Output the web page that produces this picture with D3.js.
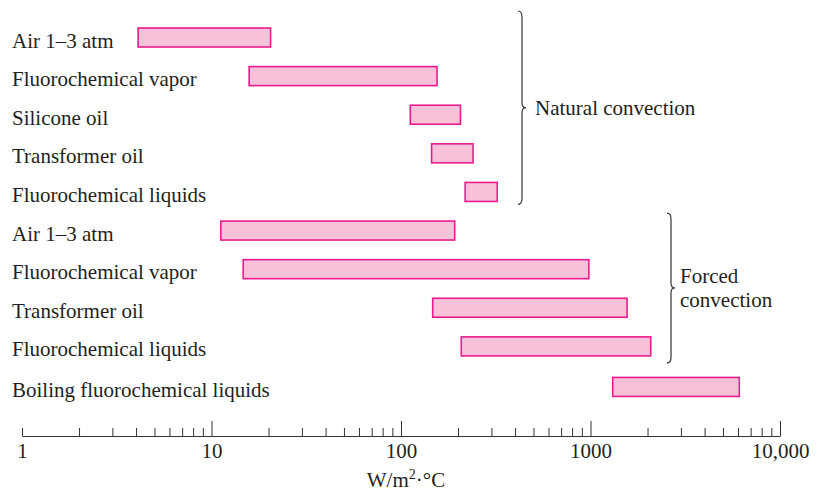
<!DOCTYPE html>
<html>
<head>
<meta charset="utf-8">
<script src="https://cdn.jsdelivr.net/npm/d3@7"></script>
<style>
  body { margin: 0; background: #fff; }
  svg text { font-family: "Liberation Serif", "Times New Roman", serif; fill: #231f20; }
</style>
</head>
<body>
<div id="chart"></div>
<script>
// rows, top to bottom
var labels = ["Air 1\u20133 atm", "Fluorochemical vapor", "Silicone oil", "Transformer oil",
  "Fluorochemical liquids", "Air 1\u20133 atm", "Fluorochemical vapor", "Transformer oil",
  "Fluorochemical liquids", "Boiling fluorochemical liquids"];
// h ranges, W/m2.C
var lows = [4.1, 15.8, 112, 145, 218, 11.2, 14.7, 147, 208, 1310];
var highs = [20.5, 155, 206, 240, 322, 192, 980, 1560, 2080, 6100];
// row slot (boiling sits a little lower)
var slots = [0, 1, 2, 3, 4, 5, 6, 7, 8, 9.05];
var groups = [
  { name: ["Natural convection"], first: 0, last: 4 },
  { name: ["Forced", "convection"], first: 5, last: 8 }
];
var majorTicks = [1, 10, 100, 1000, 10000];
var tickLabels = ["1", "10", "100", "1000", "10,000"];

var width = 820, height = 493;
var svg = d3.select("#chart").append("svg").attr("width", width).attr("height", height);

var x = d3.scaleLog().domain([1, 10000]).range([22, 780]);
var y = d3.scaleLinear().domain([0, 9]).range([37.5, 385]);
var barH = 19;
var axisY = 436;

// bars
svg.selectAll("rect.bar").data(labels).enter().append("rect")
  .attr("class", "bar")
  .attr("x", function(d, i) { return x(lows[i]); })
  .attr("width", function(d, i) { return x(highs[i]) - x(lows[i]); })
  .attr("y", function(d, i) { return y(slots[i]) - barH / 2; })
  .attr("height", barH)
  .attr("fill", "#f6c1d9")
  .attr("stroke", "#ec1b8c")
  .attr("stroke-width", 1.6);

// row labels
svg.selectAll("text.row").data(labels).enter().append("text")
  .attr("class", "row")
  .attr("x", 12)
  .attr("y", function(d, i) { return y(slots[i]) + 10; })
  .attr("font-size", 21)
  .text(function(d) { return d; });

// braces
function brace(bx, y0, y1) {
  var ym = (y0 + y1) / 2;
  return "M" + (bx - 4) + "," + y0 + " Q" + bx + "," + y0 + " " + bx + "," + (y0 + 6) +
    " L" + bx + "," + (ym - 5) + " Q" + bx + "," + ym + " " + (bx + 4) + "," + ym +
    " Q" + bx + "," + ym + " " + bx + "," + (ym + 5) +
    " L" + bx + "," + (y1 - 6) + " Q" + bx + "," + y1 + " " + (bx - 4) + "," + y1;
}
var braceX = [522, 671];
var textGap = [13, 9];
var braceTop = [-26.5, -17.5];
var braceBot = [12.5, 16.5];
groups.forEach(function(g, k) {
  var y0 = y(slots[g.first]) + braceTop[k];
  var y1 = y(slots[g.last]) + braceBot[k];
  svg.append("path")
    .attr("d", brace(braceX[k], y0, y1))
    .attr("fill", "none")
    .attr("stroke", "#333")
    .attr("stroke-width", 1.2);
  var ym = (y0 + y1) / 2;
  var t = svg.append("text").attr("font-size", 21);
  var n = g.name.length;
  g.name.forEach(function(s, j) {
    t.append("tspan")
      .attr("x", braceX[k] + textGap[k])
      .attr("y", ym + 7 + (j - (n - 1) / 2) * 24)
      .text(s);
  });
});

// x axis: minor ticks
var minorTicks = [];
[1, 10, 100, 1000].forEach(function(p) {
  for (var m = 1; m < 10; m++) minorTicks.push(p * m);
});
minorTicks.push(10000);

var axis = svg.append("g")
  .attr("transform", "translate(0," + axisY + ")")
  .call(d3.axisBottom(x).tickValues(minorTicks).tickSize(-8).tickSizeOuter(0).tickFormat(""));
axis.selectAll(".tick line")
  .attr("y2", function(d) { return (d > 1 && majorTicks.indexOf(d) >= 0) ? -15 : -8; });
axis.selectAll("line, path").attr("stroke", "#333").attr("stroke-width", 1);

// tick labels
var lab = svg.append("g")
  .attr("transform", "translate(0," + axisY + ")")
  .call(d3.axisBottom(x).tickValues(majorTicks).tickSize(0).tickPadding(7)
    .tickFormat(function(d, i) { return tickLabels[i]; }));
lab.select(".domain").remove();
lab.selectAll("text")
  .attr("font-size", 21)
  .attr("font-family", "Liberation Serif, serif")
  .attr("fill", "#231f20");

// axis title
var title = svg.append("text")
  .attr("x", 406)
  .attr("y", 487)
  .attr("text-anchor", "middle")
  .attr("font-size", 21);
title.append("tspan").text("W/m");
title.append("tspan").attr("font-size", 14).attr("dy", -8).text("2");
title.append("tspan").attr("dy", 8).text("\u00b7\u00b0C");
</script>
</body>
</html>
